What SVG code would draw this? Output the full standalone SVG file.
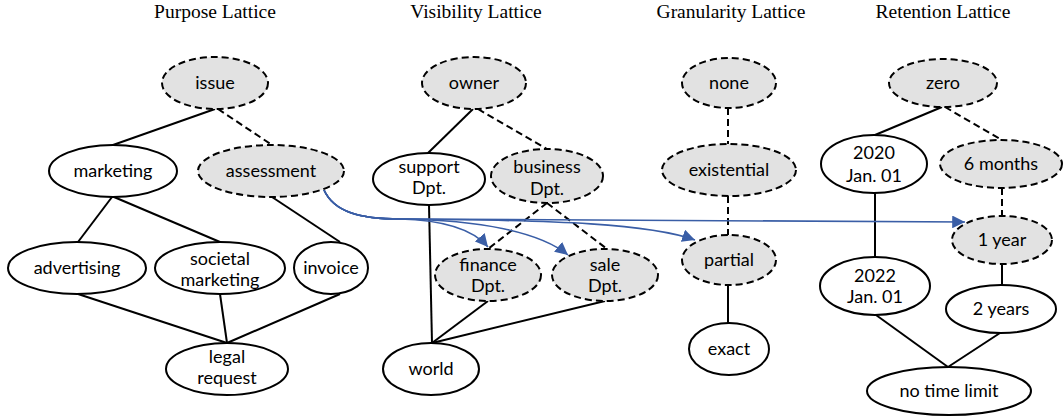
<svg xmlns="http://www.w3.org/2000/svg" width="1064" height="419" viewBox="0 0 1064 419">
  <style>
    .title { font-family: "Liberation Serif", "Times New Roman", serif; font-size: 19.5px; fill: #000; text-anchor: middle; }
    .lbl { font-family: Lato, "Liberation Sans", sans-serif; font-size: 18px; fill: #000; text-anchor: middle; }
    .solid { fill: #fff; stroke: #000; stroke-width: 2; }
    .dashed { fill: #e2e2e2; stroke: #000; stroke-width: 2; stroke-dasharray: 7 4; }
    .edge { fill: none; stroke: #000; stroke-width: 2; }
    .edge.dash { stroke-dasharray: 7 4; }
    .flow { fill: none; stroke: #3a5ea6; stroke-width: 1.6; marker-end: url(#arrow); }
  </style>
  <defs>
    <marker id="arrow" viewBox="0 0 10 10" refX="10" refY="5" markerWidth="8" markerHeight="8" markerUnits="strokeWidth" orient="auto">
      <path d="M0,0 L10,5 L0,10 z" fill="#3a5ea6"/>
    </marker>
  </defs>
  <rect width="1064" height="419" fill="#fff"/>

  <!-- column titles -->
  <g id="titles">
    <text class="title" x="215" y="18">Purpose Lattice</text>
    <text class="title" x="476" y="18">Visibility Lattice</text>
    <text class="title" x="731" y="18">Granularity Lattice</text>
    <text class="title" x="943" y="18">Retention Lattice</text>
  </g>

  <!-- lattice order edges -->
  <g id="connectors">
    <!-- purpose -->
    <line class="edge" x1="215" y1="109" x2="113" y2="145"/>
    <line class="edge dash" x1="218" y1="109" x2="272" y2="145"/>
    <line class="edge" x1="112" y1="197" x2="78" y2="242"/>
    <line class="edge" x1="114" y1="197" x2="220" y2="242"/>
    <line class="edge" x1="272" y1="197" x2="340" y2="242"/>
    <line class="edge" x1="78" y1="294" x2="227" y2="343"/>
    <line class="edge" x1="220" y1="294" x2="227" y2="343"/>
    <line class="edge" x1="340" y1="294" x2="227" y2="343"/>
    <!-- visibility -->
    <line class="edge" x1="473" y1="109" x2="428" y2="153"/>
    <line class="edge dash" x1="478" y1="109" x2="547" y2="149"/>
    <line class="edge dash" x1="547" y1="203" x2="488" y2="249"/>
    <line class="edge dash" x1="547" y1="203" x2="607" y2="249"/>
    <line class="edge" x1="429" y1="205" x2="432" y2="343"/>
    <line class="edge" x1="488" y1="301" x2="432" y2="343"/>
    <line class="edge" x1="605" y1="301" x2="432" y2="343"/>
    <!-- granularity -->
    <line class="edge dash" x1="728" y1="108" x2="728" y2="144"/>
    <line class="edge dash" x1="728" y1="196" x2="728" y2="235"/>
    <line class="edge" x1="728" y1="285" x2="728" y2="323"/>
    <!-- retention -->
    <line class="edge" x1="942" y1="107" x2="875" y2="135"/>
    <line class="edge dash" x1="945" y1="107" x2="1002" y2="140"/>
    <line class="edge dash" x1="1002" y1="188" x2="1002" y2="216"/>
    <line class="edge" x1="875" y1="193" x2="875" y2="257"/>
    <line class="edge" x1="1002" y1="264" x2="1002" y2="285"/>
    <line class="edge" x1="876" y1="315" x2="948" y2="367"/>
    <line class="edge" x1="1000" y1="333" x2="948" y2="367"/>
    <!-- mapping arrows from assessment -->
    <path class="flow" d="M324,190 C334,212 360,219 400,219 C440,220 472,228 488,247"/>
    <path class="flow" d="M324,190 C334,212 360,219 400,219 C480,220 540,232 568,255"/>
    <path class="flow" d="M324,190 C334,212 360,219 400,219 C560,220 650,224 695,240"/>
    <path class="flow" d="M324,190 C334,212 360,219 400,219 L965,222"/>
  </g>

  <!-- Purpose lattice -->
  <g id="issue"><ellipse class="dashed" cx="215" cy="83" rx="53" ry="26"/><text class="lbl" x="215" y="89">issue</text></g>
  <g id="marketing"><ellipse class="solid" cx="113" cy="171" rx="64" ry="26"/><text class="lbl" x="113" y="177">marketing</text></g>
  <g id="assessment"><ellipse class="dashed" cx="271" cy="171" rx="73" ry="26"/><text class="lbl" x="271" y="177">assessment</text></g>
  <g id="advertising"><ellipse class="solid" cx="77" cy="268" rx="69" ry="26"/><text class="lbl" x="77" y="274">advertising</text></g>
  <g id="societal-marketing"><ellipse class="solid" cx="220" cy="268" rx="65" ry="26"/><text class="lbl" x="220" y="265">societal</text><text class="lbl" x="220" y="286">marketing</text></g>
  <g id="invoice"><ellipse class="solid" cx="331" cy="268" rx="37" ry="26"/><text class="lbl" x="331" y="274">invoice</text></g>
  <g id="legal-request"><ellipse class="solid" cx="227" cy="369" rx="61" ry="26"/><text class="lbl" x="227" y="363">legal</text><text class="lbl" x="227" y="384">request</text></g>

  <!-- Visibility lattice -->
  <g id="owner"><ellipse class="dashed" cx="474" cy="83" rx="52" ry="26"/><text class="lbl" x="474" y="89">owner</text></g>
  <g id="support-dpt"><ellipse class="solid" cx="429" cy="179" rx="56" ry="26"/><text class="lbl" x="429" y="173">support</text><text class="lbl" x="429" y="194">Dpt.</text></g>
  <g id="business-dpt"><ellipse class="dashed" cx="547" cy="176" rx="56" ry="27"/><text class="lbl" x="547" y="173">business</text><text class="lbl" x="547" y="195">Dpt.</text></g>
  <g id="finance-dpt"><ellipse class="dashed" cx="488" cy="275" rx="53" ry="26"/><text class="lbl" x="488" y="271">finance</text><text class="lbl" x="488" y="292">Dpt.</text></g>
  <g id="sale-dpt"><ellipse class="dashed" cx="605" cy="275" rx="53" ry="26"/><text class="lbl" x="605" y="271">sale</text><text class="lbl" x="605" y="292">Dpt.</text></g>
  <g id="world"><ellipse class="solid" cx="431" cy="369" rx="48" ry="26"/><text class="lbl" x="431" y="375">world</text></g>

  <!-- Granularity lattice -->
  <g id="none"><ellipse class="dashed" cx="729" cy="83" rx="47" ry="25"/><text class="lbl" x="729" y="89">none</text></g>
  <g id="existential"><ellipse class="dashed" cx="729" cy="170" rx="67" ry="26"/><text class="lbl" x="729" y="176">existential</text></g>
  <g id="partial"><ellipse class="dashed" cx="729" cy="260" rx="47" ry="25"/><text class="lbl" x="729" y="266">partial</text></g>
  <g id="exact"><ellipse class="solid" cx="729" cy="349" rx="40" ry="26"/><text class="lbl" x="729" y="355">exact</text></g>

  <!-- Retention lattice -->
  <g id="zero"><ellipse class="dashed" cx="943" cy="83" rx="54" ry="24"/><text class="lbl" x="943" y="89">zero</text></g>
  <g id="y2020"><ellipse class="solid" cx="874" cy="164" rx="53" ry="29"/><text class="lbl" x="874" y="159">2020</text><text class="lbl" x="874" y="182">Jan. 01</text></g>
  <g id="six-months"><ellipse class="dashed" cx="1001" cy="164" rx="61" ry="24"/><text class="lbl" x="1001" y="170">6 months</text></g>
  <g id="one-year"><ellipse class="dashed" cx="1002" cy="240" rx="50" ry="24"/><text class="lbl" x="1002" y="246">1 year</text></g>
  <g id="y2022"><ellipse class="solid" cx="875" cy="286" rx="55" ry="29"/><text class="lbl" x="875" y="282">2022</text><text class="lbl" x="875" y="303">Jan. 01</text></g>
  <g id="two-years"><ellipse class="solid" cx="1001" cy="309" rx="55" ry="24"/><text class="lbl" x="1001" y="315">2 years</text></g>
  <g id="no-time-limit"><ellipse class="solid" cx="949" cy="391" rx="82" ry="24"/><text class="lbl" x="949" y="397">no time limit</text></g>
</svg>
